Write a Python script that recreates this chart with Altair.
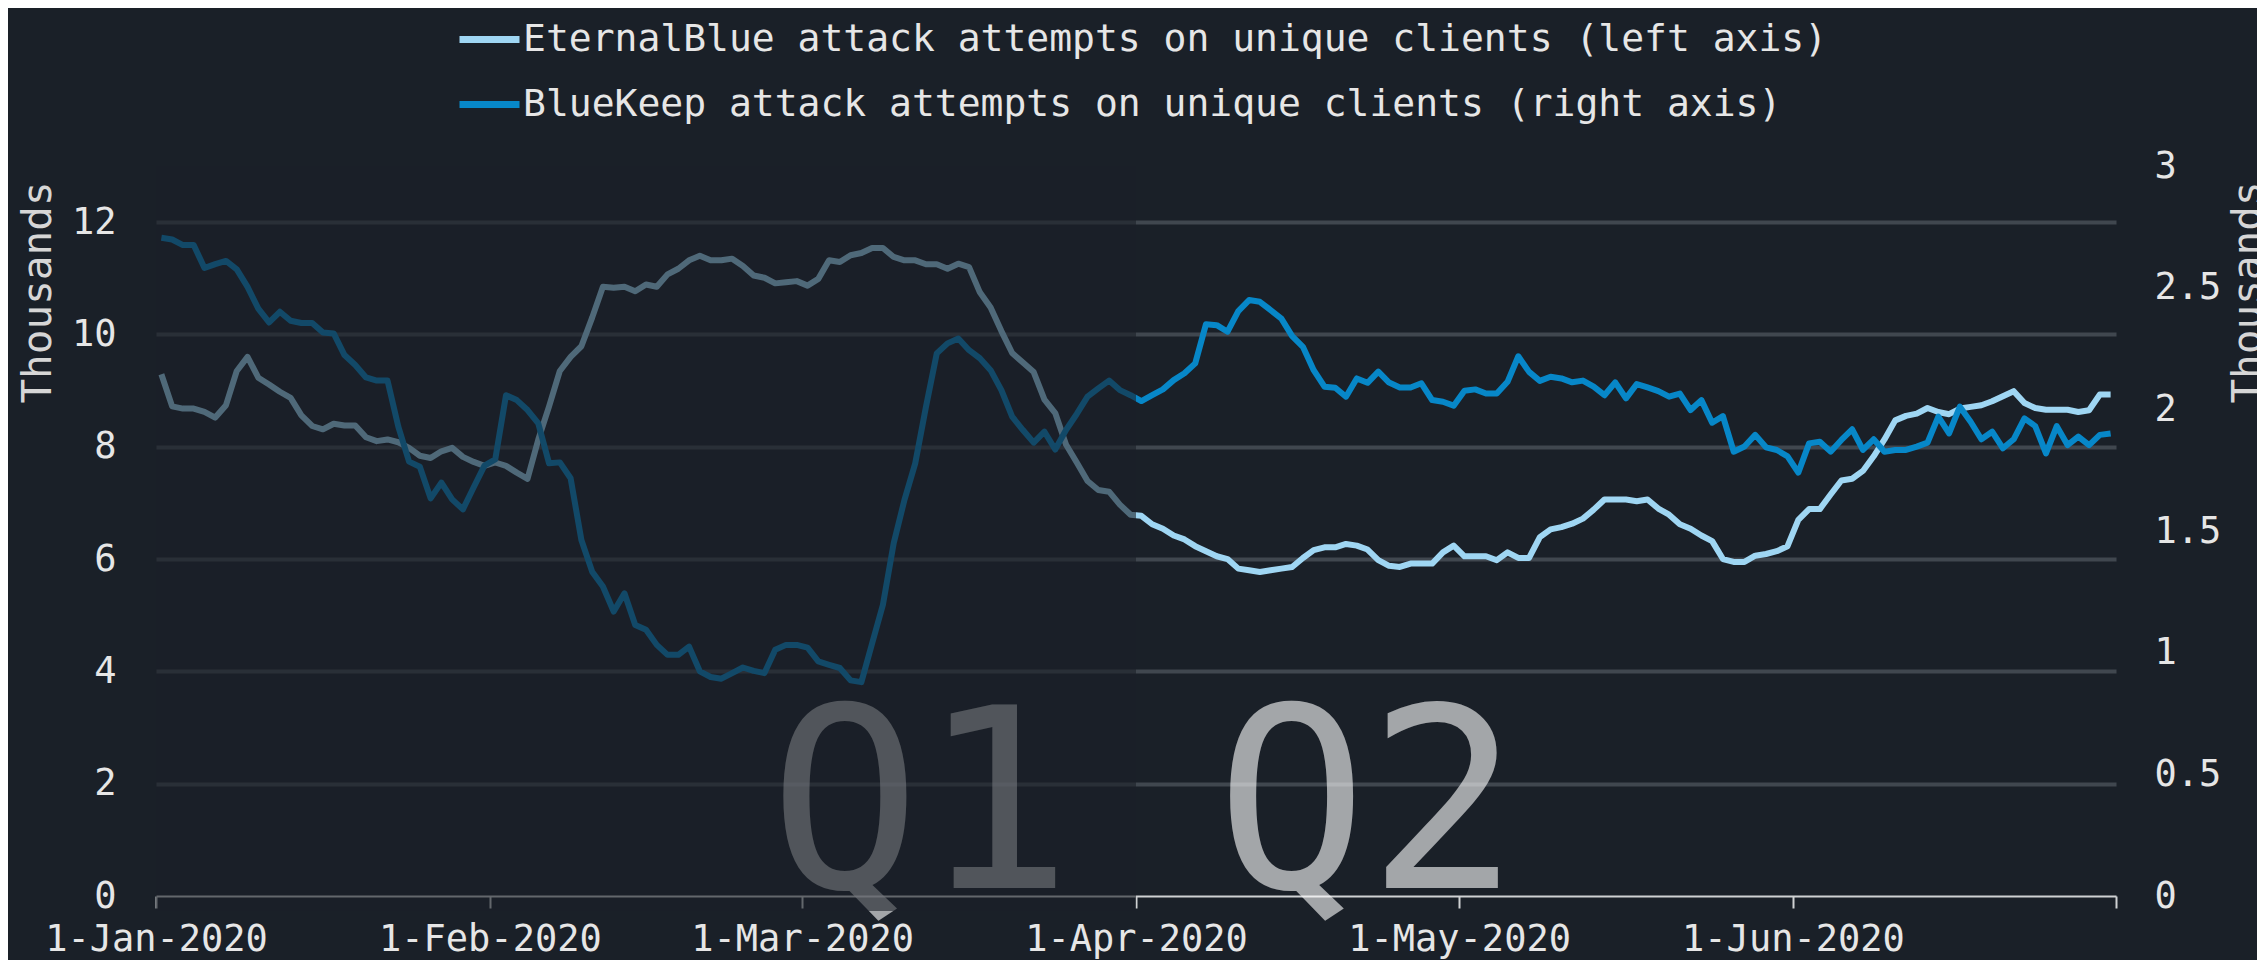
import altair as alt
import pandas as pd

# ---------------- data ----------------
EB_NAME = "EternalBlue attack attempts on unique clients (left axis)"
BK_NAME = "BlueKeep attack attempts on unique clients (right axis)"

# daily values, 1-Jan-2020 .. 30-Jun-2020 (thousands)
eternalblue = [
    9.29, 8.72, 8.68, 8.68, 8.62, 8.52, 8.74, 9.35, 9.60, 9.23,
    9.11, 8.98, 8.87, 8.56, 8.37, 8.31, 8.41, 8.38, 8.38, 8.17,
    8.10, 8.13, 8.08, 7.98, 7.84, 7.80, 7.92, 7.98, 7.82, 7.73,
    7.66, 7.72, 7.66, 7.54, 7.43, 8.13, 8.72, 9.35, 9.60, 9.79,
    10.30, 10.85, 10.83, 10.85, 10.77, 10.89, 10.85, 11.07, 11.17, 11.32,
    11.40, 11.32, 11.32, 11.35, 11.22, 11.05, 11.01, 10.91, 10.93, 10.95,
    10.87, 10.99, 11.32, 11.29, 11.41, 11.45, 11.54, 11.54, 11.38, 11.32,
    11.32, 11.25, 11.25, 11.17, 11.26, 11.20, 10.75, 10.48, 10.06, 9.67,
    9.50, 9.33, 8.84, 8.60, 8.04, 7.72, 7.39, 7.23, 7.20, 6.97,
    6.79, 6.77, 6.62, 6.54, 6.42, 6.35, 6.23, 6.14, 6.05, 6.00,
    5.83, 5.80, 5.77, 5.80, 5.83, 5.86, 6.02, 6.16, 6.21, 6.21,
    6.27, 6.24, 6.17, 5.98, 5.88, 5.86, 5.92, 5.92, 5.92, 6.12,
    6.24, 6.05, 6.05, 6.05, 5.98, 6.12, 6.02, 6.02, 6.39, 6.53,
    6.57, 6.63, 6.72, 6.88, 7.06, 7.06, 7.06, 7.03, 7.06, 6.90,
    6.79, 6.62, 6.54, 6.42, 6.32, 6.00, 5.95, 5.95, 6.06, 6.09,
    6.14, 6.23, 6.70, 6.89, 6.89, 7.15, 7.40, 7.43, 7.57, 7.83,
    8.13, 8.47, 8.55, 8.59, 8.69, 8.62, 8.58, 8.68, 8.71, 8.74,
    8.81, 8.90, 8.99, 8.78, 8.69, 8.66, 8.66, 8.66, 8.62, 8.65,
    8.93, 8.93,
]

bluekeep = [
    2.705, 2.698, 2.675, 2.675, 2.581, 2.597, 2.610, 2.575, 2.503, 2.414,
    2.357, 2.401, 2.364, 2.355, 2.355, 2.316, 2.312, 2.223, 2.182, 2.131,
    2.118, 2.118, 1.929, 1.785, 1.764, 1.634, 1.699, 1.630, 1.589, 1.680,
    1.769, 1.794, 2.058, 2.038, 1.997, 1.942, 1.778, 1.782, 1.717, 1.463,
    1.333, 1.272, 1.169, 1.244, 1.114, 1.094, 1.032, 0.991, 0.991, 1.025,
    0.923, 0.900, 0.893, 0.916, 0.939, 0.925, 0.916, 1.012, 1.032, 1.032,
    1.021, 0.964, 0.950, 0.937, 0.886, 0.879, 1.039, 1.197, 1.450, 1.628,
    1.778, 2.011, 2.230, 2.271, 2.291, 2.243, 2.210, 2.161, 2.079, 1.970,
    1.915, 1.863, 1.908, 1.835, 1.915, 1.981, 2.052, 2.086, 2.118, 2.079,
    2.058, 2.034, 2.058, 2.082, 2.120, 2.148, 2.189, 2.350, 2.346, 2.319,
    2.404, 2.449, 2.442, 2.408, 2.373, 2.301, 2.257, 2.161, 2.093, 2.089,
    2.052, 2.127, 2.109, 2.155, 2.110, 2.090, 2.090, 2.107, 2.038, 2.031,
    2.015, 2.076, 2.082, 2.065, 2.065, 2.113, 2.218, 2.154, 2.117, 2.134,
    2.127, 2.111, 2.118, 2.093, 2.058, 2.111, 2.045, 2.104, 2.090, 2.075,
    2.052, 2.065, 1.997, 2.038, 1.945, 1.972, 1.826, 1.847, 1.895, 1.844,
    1.833, 1.807, 1.740, 1.860, 1.867, 1.826, 1.874, 1.918, 1.833, 1.877,
    1.826, 1.833, 1.833, 1.847, 1.863, 1.970, 1.901, 2.011, 1.949, 1.877,
    1.908, 1.840, 1.877, 1.963, 1.931, 1.819, 1.931, 1.853, 1.888, 1.853,
    1.895, 1.901,
]

dates = [d.strftime("%Y-%m-%dT12:00:00Z")
         for d in pd.date_range("2020-01-01", "2020-06-30", freq="D")]

left_ticks = [0, 2, 4, 6, 8, 10, 12]
right_ticks = [0, 0.5, 1, 1.5, 2, 2.5, 3]
month_ticks = [1, 2, 3, 4, 5, 6, 7]

quarter_labels = ["Q1", "Q2"]
quarter_dates = ["2020-03-12T00:00:00Z", "2020-04-22T12:00:00Z"]
quarter_y = [0.15, 0.15]

dim_start = ["2020-01-01T00:00:00Z"]
dim_end = ["2020-04-01T00:00:00Z"]

# ---------------- style ----------------
BG = "#1a2028"
EB_COLOR = "#9fd6f3"
BK_COLOR = "#0787c8"
GRID = "#40474f"
TXT = "#e6e6e6"
FONT = "DejaVu Sans Mono"

W, H = 1960, 730

eb_df = pd.DataFrame({"date": dates, "v": eternalblue, "series": EB_NAME})
bk_df = pd.DataFrame({"date": dates, "v": bluekeep, "series": BK_NAME})
q_df = pd.DataFrame({"date": quarter_dates, "v": quarter_y, "label": quarter_labels})
dim_df = pd.DataFrame({"date": dim_start, "date_end": dim_end})

x_enc = alt.X(
    "date:T",
    title=None,
    scale=alt.Scale(type="utc",
                    domain=[alt.DateTime(year=2020, month=1, date=1, utc=True),
                            alt.DateTime(year=2020, month=7, date=1, utc=True)]),
    axis=alt.Axis(
        values=[alt.DateTime(year=2020, month=m, date=1, utc=True) for m in month_ticks],
        labelExpr="utcmonth(datum.value) == 6 ? '' : utcFormat(datum.value, '%-d-%b-%Y')",
        grid=False, domainColor="#cfd1d3", domainWidth=2,
        tickColor="#cfd1d3", tickWidth=2, tickSize=12,
        labelFlush=False, labelOverlap=False, labelPadding=13, labelLimit=0,
        labelFont=FONT, labelFontSize=37, labelColor=TXT,
    ),
)

y_left = alt.Y(
    "v:Q",
    scale=alt.Scale(domain=[0, 13], nice=False),
    axis=alt.Axis(
        values=left_ticks, format="d", grid=True, gridColor=GRID, gridWidth=4,
        gridOpacity={"condition": {"test": "datum.value === 0", "value": 0}, "value": 1},
        domain=False, ticks=False, labelPadding=40,
        labelFont=FONT, labelFontSize=37, labelColor=TXT,
        title="Thousands", titleFont=FONT, titleFontSize=41, titleColor="#d6d6d6",
        titleFontWeight="normal", titleAngle=270, titleAlign="center",
        titleBaseline="middle", titleX=-118, titleY=126,
    ),
)

y_right = alt.Y(
    "v:Q",
    scale=alt.Scale(domain=[0, 3], nice=False),
    axis=alt.Axis(
        orient="right", values=right_ticks, format=".1~f", grid=False,
        domain=False, ticks=False, labelPadding=38,
        labelFont=FONT, labelFontSize=37, labelColor=TXT,
        title="Thousands", titleFont=FONT, titleFontSize=41, titleColor="#d6d6d6",
        titleFontWeight="normal", titleAngle=270, titleAlign="center",
        titleBaseline="middle", titleX=132, titleY=126,
    ),
)

color_enc = alt.Color(
    "series:N",
    scale=alt.Scale(domain=[EB_NAME, BK_NAME], range=[EB_COLOR, BK_COLOR]),
    legend=alt.Legend(
        title=None, orient="none", legendX=300, legendY=-160, direction="vertical",
        symbolType="stroke", symbolSize=3600, symbolStrokeWidth=7,
        labelFont=FONT, labelFontSize=38, labelColor=TXT, labelLimit=0,
        labelOffset=0, rowPadding=12,
    ),
)

q_text = alt.Chart(q_df).mark_text(
    font=FONT, fontSize=252, color="white", opacity=0.6,
    align="center", baseline="alphabetic",
).encode(x=x_enc, y=y_left, text="label:N")

eb_line = alt.Chart(eb_df).mark_line(strokeWidth=6, strokeJoin="round").encode(
    x=x_enc, y=y_left, color=color_enc)

bk_line = alt.Chart(bk_df).mark_line(strokeWidth=6, strokeJoin="round").encode(
    x=x_enc, y=y_right, color=color_enc)

dim = alt.Chart(dim_df).mark_rect(color=BG, opacity=0.6).encode(
    x=x_enc, x2="date_end:T", y=alt.value(0), y2=alt.value(H + 15))

left_group = alt.layer(q_text, eb_line)

chart = alt.layer(left_group, bk_line, dim).resolve_scale(
    y="independent"
).properties(
    width=W, height=H,
    padding={"left": 148, "top": 158, "right": 141, "bottom": 64},
    autosize=alt.AutoSizeParams(type="none"),
).configure(background=BG).configure_view(stroke=None)

chart.save("out.html", embed_options={"renderer": "svg", "actions": False})
